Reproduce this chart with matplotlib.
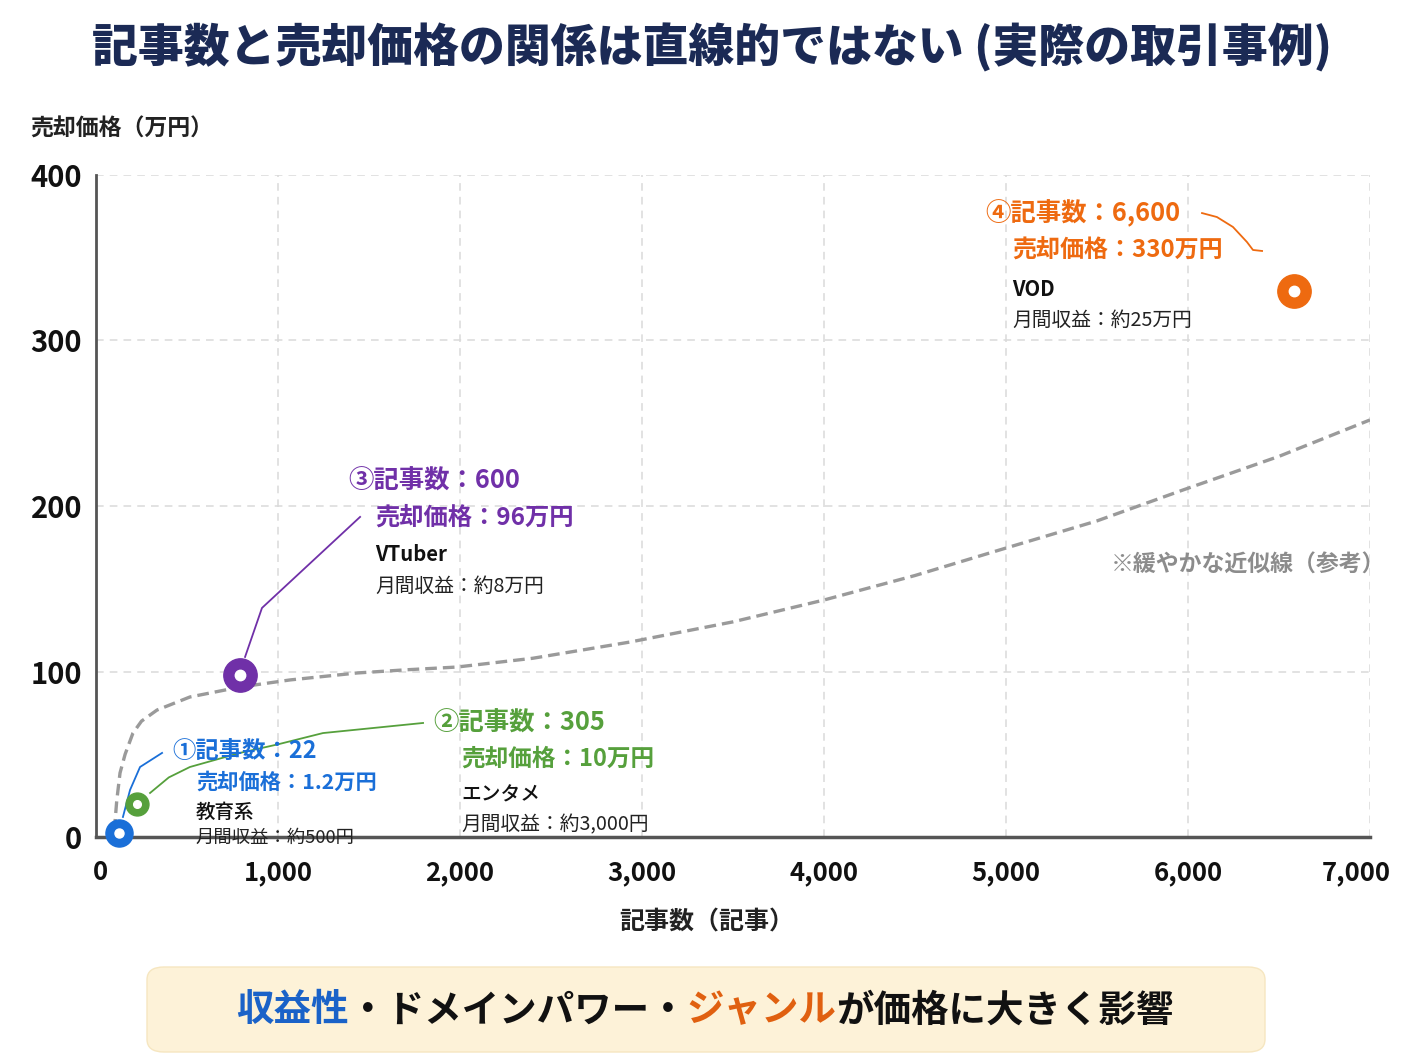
import matplotlib
matplotlib.use("Agg")
import matplotlib.pyplot as plt
from matplotlib.patches import FancyBboxPatch
from matplotlib.transforms import ScaledTranslation

plt.rcParams['font.family'] = ['Noto Sans CJK JP', 'DejaVu Sans']

# ---------------- data ----------------
title = "記事数と売却価格の関係は直線的ではない (実際の取引事例)"
x_label = "記事数（記事）"
y_label = "売却価格（万円）"
x_ticks = [0, 1000, 2000, 3000, 4000, 5000, 6000, 7000]
x_tick_labels = ["0", "1,000", "2,000", "3,000", "4,000", "5,000", "6,000", "7,000"]
y_ticks = [0, 100, 200, 300, 400]
y_tick_labels = ["0", "100", "200", "300", "400"]

# plotted marker positions
case_x = [127, 226, 793, 6584]
case_y = [2.4, 20, 98, 330]
case_colors = ["#1a6fd8", "#56a03c", "#7030a8", "#ee6a10"]
case_head = ["①記事数：22", "②記事数：305", "③記事数：600", "④記事数：6,600"]
case_price = ["売却価格：1.2万円", "売却価格：10万円", "売却価格：96万円", "売却価格：330万円"]
case_genre = ["教育系", "エンタメ", "VTuber", "VOD"]
case_income = ["月間収益：約500円", "月間収益：約3,000円", "月間収益：約8万円", "月間収益：約25万円"]

# reference approximation curve
curve_x = [93, 104, 114, 132, 160, 203, 250, 335, 516, 791, 1066, 1434, 1700, 1984,
           2400, 2934, 3500, 4000, 4500, 5000, 5500, 5973, 6500, 7000]
curve_y = [4, 8.5, 22, 38.7, 50, 62.8, 70, 76.7, 84.6, 90.6, 94.9, 99.1, 101, 102.7,
           108, 117.8, 130, 143.2, 158, 174.6, 191, 209.7, 230, 252]
curve_note = "※緩やかな近似線（参考）"

footer_parts = ["収益性", "・ドメインパワー・", "ジャンル", "が価格に大きく影響"]
footer_colors = ["#1a62c8", "#111111", "#e06010", "#111111"]

# ---------------- figure ----------------
W, H = 1408, 1056
fig = plt.figure(figsize=(W / 100, H / 100), dpi=100)
fig.patch.set_facecolor("white")
ax = fig.add_axes([96 / W, 1 - 837 / H, 1274 / W, (837 - 175) / H])

ax.set_xlim(0, 7000)
ax.set_ylim(0, 400)
ax.set_xticks(x_ticks)
ax.set_xticklabels(x_tick_labels, fontsize=18.5, fontweight="bold", color="#111111")
ax.set_yticks(y_ticks)
ax.set_yticklabels(y_tick_labels, fontsize=21, fontweight="bold", color="#111111")
ax.tick_params(axis="both", length=0)
ax.tick_params(axis="x", pad=16)
ax.tick_params(axis="y", pad=10)
xlabels = ax.get_xticklabels()
# first and last x tick labels sit slightly off their grid lines in the reference
xlabels[0].set_transform(xlabels[0].get_transform() + ScaledTranslation(4 / 100, 0, fig.dpi_scale_trans))
xlabels[-1].set_transform(xlabels[-1].get_transform() + ScaledTranslation(-14 / 100, 0, fig.dpi_scale_trans))

for s in ["top", "right"]:
    ax.spines[s].set_visible(False)
ax.spines["left"].set_color("#555555")
ax.spines["left"].set_linewidth(2)
ax.spines["bottom"].set_color("#555555")
ax.spines["bottom"].set_linewidth(2.5)

ax.grid(True, color="#dadada", linestyle=(0, (5, 4)), linewidth=1.1)
ax.set_axisbelow(True)

# approximation curve
ax.plot(curve_x, curve_y, color="#9a9a9a", lw=2.4, dashes=(3.5, 1.8), zorder=2,
        solid_capstyle="butt")
ax.text(7085, 164, curve_note, ha="right", va="center", fontsize=16.5,
        fontweight="bold", color="#8c8c8c", clip_on=False)

# leader lines (annotation connectors)
leaders = [
    ([148, 187, 242, 363], [12.1, 28.4, 42.3, 50.8]),
    ([297, 400, 516, 791, 1000, 1247, 1797], [26.6, 36, 42.3, 50.8, 56, 62.8, 68.9]),
    ([819, 912, 1451], [108.8, 138.4, 193.4]),
    ([6077, 6159, 6247, 6324, 6357, 6407], [377, 374.6, 368.6, 359.5, 354.7, 354.1]),
]
for (lx, ly), c in zip(leaders, case_colors):
    ax.plot(lx, ly, color=c, lw=1.3, zorder=3, clip_on=False)

# markers: thick rings
ring_sizes = [19.5, 16.5, 24, 24]
hole_sizes = [6.5, 5.5, 7.5, 7.5]
for x, y, c, s, h in zip(case_x, case_y, case_colors, ring_sizes, hole_sizes):
    ax.plot([x], [y], marker="o", ms=s, color=c, mec=c, zorder=5, clip_on=False)
    ax.plot([x], [y], marker="o", ms=h, color="white", mec="white", zorder=6, clip_on=False)

# annotation text blocks
head_pos = [(418, 52.0), (1852, 68.9), (1385, 215.1), (4885, 377.0)]
body_x = [549, 2005, 1533, 5033]
body_y = [(33.2, 15.1, -0.6), (47.1, 25.4, 7.3), (192.7, 170.4, 151.7), (354.1, 331.1, 312.4)]
head_fs = [16.8, 18.3, 18.3, 18.3]
price_fs = [15.3, 17.0, 17.5, 17.3]
genre_fs = [14, 14.2, 14.6, 14.6]
inc_fs = [13.2, 14.2, 14.2, 14.2]
for i in range(4):
    c = case_colors[i]
    ax.text(head_pos[i][0], head_pos[i][1], case_head[i], color=c, fontsize=head_fs[i],
            fontweight="bold", ha="left", va="center", zorder=7, clip_on=False)
    ax.text(body_x[i], body_y[i][0], case_price[i], color=c, fontsize=price_fs[i],
            fontweight="bold", ha="left", va="center", zorder=7, clip_on=False)
    ax.text(body_x[i], body_y[i][1], case_genre[i], color="#111111", fontsize=genre_fs[i],
            fontweight="bold" if i >= 2 else "medium", ha="left", va="center", zorder=7,
            clip_on=False)
    ax.text(body_x[i], body_y[i][2], case_income[i], color="#222222", fontsize=inc_fs[i],
            ha="left", va="center", zorder=7, clip_on=False)

# titles / labels
fig.text(712 / W, 1 - 48 / H, title, ha="center", va="center", fontsize=33,
         fontweight="heavy", color="#1b2a55")
fig.text(30 / W, 1 - 129 / H, y_label, ha="left", va="center", fontsize=16.5,
         fontweight="bold", color="#222222")
fig.text(707 / W, 1 - 922 / H, x_label, ha="center", va="center", fontsize=18,
         fontweight="bold", color="#222222")

# footer box
box = FancyBboxPatch((147 / W, 1 - 1052 / H), 1118 / W, 85 / H,
                     boxstyle="round,pad=0,rounding_size=0.012",
                     transform=fig.transFigure, facecolor="#fdf2d8",
                     edgecolor="#f6e6c0", linewidth=1, zorder=0)
fig.patches.append(box)

fig.canvas.draw()
renderer = fig.canvas.get_renderer()
footer_texts = []
widths = []
for part, col in zip(footer_parts, footer_colors):
    t = fig.text(0, 1 - 1010 / H, part, ha="left", va="center", fontsize=27,
                 fontweight="bold", color=col)
    bb = t.get_window_extent(renderer)
    widths.append(bb.width)
    footer_texts.append(t)
total = sum(widths)
start = 705 - total / 2
for t, w in zip(footer_texts, widths):
    t.set_x(start / W)
    start += w

fig.savefig("out.png", dpi=100)
